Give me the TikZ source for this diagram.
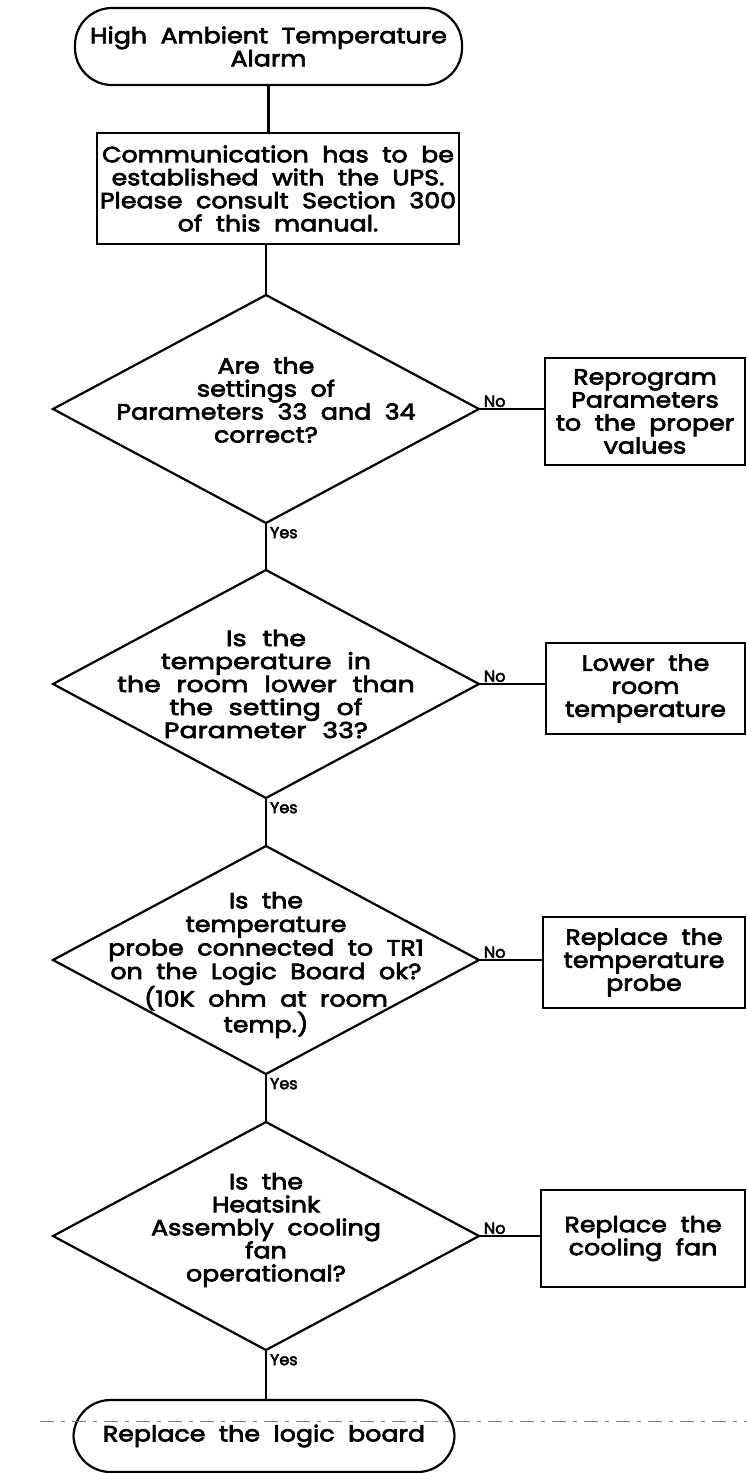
\documentclass[tikz,border=0pt]{standalone}
\usepackage{fontspec}
\setmainfont{Poppins}[FakeStretch=1.15, WordSpace=2, FakeBold=3.2]
\newfontfamily\widefont{Poppins}[FakeStretch=1.22, WordSpace=2.2, FakeBold=3.2]
\newfontfamily\tagfont{Poppins}[FakeBold=3]
\usetikzlibrary{shapes.geometric}
\begin{document}
\begin{tikzpicture}[x=1pt,y=-1pt,
  every node/.style={inner sep=0pt, outer sep=0pt},
  stroke/.style={line width=2.2pt, line cap=round, line join=miter},
  body/.style={font=\fontsize{22}{23}\selectfont, align=center},
  widebody/.style={font=\widefont\fontsize{22}{23}\selectfont, align=center},
  terminal/.style={draw, stroke, rectangle, rounded corners=37pt, body},
  actionbox/.style={draw, stroke, rectangle, body},
  decision/.style={draw, stroke, diamond, minimum width=426pt, minimum height=228pt},
  tag/.style={font=\tagfont\fontsize{16}{17}\selectfont}
]
\useasboundingbox (0,0) rectangle (747,1473);

% start and preparation
\node[terminal, minimum width=387pt, minimum height=77pt] (start) at (268.5,46.5)
  {High Ambient Temperature\\Alarm};
\node[actionbox, minimum width=362pt, minimum height=111pt] (comm) at (278,188.5)
  {Communication has to be\\established with the UPS.\\Please consult Section 300\\of this manual.};

% decisions
\node[decision] (d1) at (266,409) {};
\node[body] (d1t) at (266,400) {Are the\\settings of\\Parameters 33 and 34\\correct?};
\node[decision] (d2) at (266,684) {};
\node[widebody] (d2t) at (266,684) {Is the\\temperature in\\the room lower than\\the setting of\\Parameter 33?};
\node[decision] (d3) at (266,960) {};
\node[body, font=\fontsize{22}{23.6}\selectfont] (d3t) at (266,965) {Is the\\temperature\\probe connected to TR1\\on the Logic Board ok?\\(10K ohm at room\\temp.)};
\node[decision] (d4) at (266,1236) {};
\node[body] (d4t) at (266,1230) {Is the\\Heatsink\\Assembly cooling\\fan\\operational?};

% remedies
\node[actionbox, minimum width=200pt, minimum height=107pt] (r1) at (645,411.5)
  {Reprogram\\Parameters\\to the proper\\values};
\node[actionbox, minimum width=199pt, minimum height=91pt] (r2) at (645.5,688.5)
  {Lower the\\room\\temperature};
\node[actionbox, minimum width=202pt, minimum height=91pt] (r3) at (644,962.5)
  {Replace the\\temperature\\probe};
\node[actionbox, minimum width=204pt, minimum height=97pt] (r4) at (643,1238.5)
  {Replace the\\cooling fan};

% final step
\node[terminal, minimum width=381pt, minimum height=72pt] (finish) at (264,1436)
  {Replace the logic board};

% main flow
\draw[stroke] (start.south) -- (start.south |- comm.north);
\draw[stroke] (d1.north |- comm.south) -- (d1.north);
\draw[stroke] (d1.south) -- (d2.north);
\draw[stroke] (d2.south) -- (d3.north);
\draw[stroke] (d3.south) -- (d4.north);
\draw[stroke] (d4.south) -- (d4.south |- finish.north);

% "No" branches
\draw[stroke] (d1.east) -- (d1.east -| r1.west);
\draw[stroke] (d2.east) -- (d2.east -| r2.west);
\draw[stroke] (d3.east) -- (d3.east -| r3.west);
\draw[stroke] (d4.east) -- (d4.east -| r4.west);

\node[tag, anchor=south west] (n1) at ([xshift=5pt,yshift=2pt]d1.east) {No};
\node[tag, anchor=south west] (n2) at ([xshift=5pt,yshift=2pt]d2.east) {No};
\node[tag, anchor=south west] (n3) at ([xshift=5pt,yshift=2pt]d3.east) {No};
\node[tag, anchor=south west] (n4) at ([xshift=5pt,yshift=2pt]d4.east) {No};

\node[tag, anchor=north west] (y1) at ([xshift=4pt,yshift=-4pt]d1.south) {Yes};
\node[tag, anchor=north west] (y2) at ([xshift=4pt,yshift=-4pt]d2.south) {Yes};
\node[tag, anchor=north west] (y3) at ([xshift=4pt,yshift=-4pt]d3.south) {Yes};
\node[tag, anchor=north west] (y4) at ([xshift=4pt,yshift=-4pt]d4.south) {Yes};

% faint broken rule across the last step
\draw[gray, line width=0.9pt, dash pattern=on 14pt off 7pt on 4pt off 7pt] (40,1421) -- (747,1421);
\end{tikzpicture}
\end{document}
